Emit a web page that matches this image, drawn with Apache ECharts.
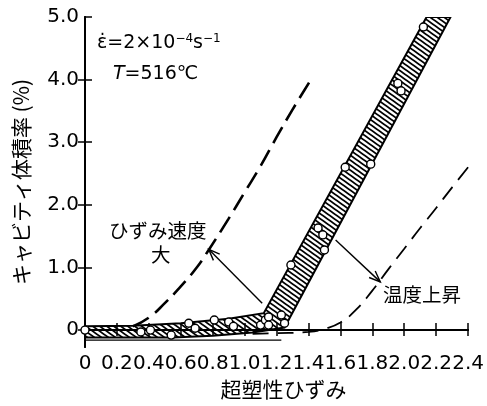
<!DOCTYPE html>
<html>
<head>
<meta charset="utf-8">
<script src="https://cdn.jsdelivr.net/npm/echarts@6/dist/echarts.min.js"></script>
<style>
  html, body { margin: 0; padding: 0; background: #fff; }
  #chart { width: 487px; height: 406px; }
</style>
</head>
<body>
<div id="chart"></div>
<script>
// measured points (open circles)
const pointX = [0, 0.35, 0.41, 0.54, 0.65, 0.69, 0.81, 0.90, 0.93, 1.10, 1.13, 1.15, 1.15, 1.23, 1.25, 1.29, 1.46, 1.49, 1.50, 1.63, 1.79, 1.96, 1.98, 2.12]
const pointY = [0, -0.03, 0, -0.08, 0.11, 0.03, 0.16, 0.13, 0.06, 0.08, 0.16, 0.21, 0.08, 0.24, 0.11, 1.04, 1.63, 1.52, 1.28, 2.60, 2.65, 3.94, 3.82, 4.84]

// hatched band edges
const bandUpperX = [0, 0.3, 0.6, 0.9, 1.12, 2.14]
const bandUpperY = [0.06, 0.07, 0.11, 0.18, 0.27, 5.0]
const bandLowerX = [0, 0.55, 0.8, 1.05, 1.25, 2.29]
const bandLowerY = [-0.12, -0.12, -0.09, -0.04, 0.04, 5.0]

// thin base line under the band
const baseX = [0, 1.23]
const baseY = [-0.16, -0.16]

// dashed curve: higher strain rate
const fastX = [0.3, 0.4, 0.5, 0.6, 0.7, 0.78, 0.9, 1.0, 1.1, 1.2, 1.3, 1.42]
const fastY = [0.06, 0.2, 0.43, 0.7, 1.0, 1.3, 1.78, 2.2, 2.62, 3.08, 3.52, 4.02]

// dashed curve: higher temperature
const hotX = [1.05, 1.2, 1.4, 1.5, 1.6, 1.7, 1.8, 1.9, 2.0, 2.1, 2.2, 2.3, 2.4]
const hotY = [-0.06, -0.05, -0.03, 0.02, 0.12, 0.33, 0.63, 0.97, 1.3, 1.63, 1.95, 2.28, 2.6]

// arrows [x1, y1, x2, y2] (tail -> head)
const arrows = [
  [1.11, 0.43, 0.775, 1.29],
  [1.57, 1.44, 1.85, 0.77]
]

const yTickValues = [0, 1, 2, 3, 4, 5]
const yRightTicks = [0, 1, 2, 3, 4]

const numFont = 'DejaVu Sans'
const jpFont = 'Noto Sans CJK JP'

const zip = (xs, ys) => xs.map((x, i) => [x, ys[i]])

// hatch pattern "\\\\"
const makeHatch = () => {
  const w = 7, h = 5
  const c = document.createElement('canvas')
  c.width = w
  c.height = h
  const ctx = c.getContext('2d')
  ctx.strokeStyle = '#000'
  ctx.lineWidth = 1.8
  for (const dx of [-w, 0, w]) {
    ctx.beginPath()
    ctx.moveTo(dx - w, -h)
    ctx.lineTo(dx + 2 * w, 2 * h)
    ctx.stroke()
  }
  return c
}
const hatch = makeHatch()

const chart = echarts.init(document.getElementById('chart'), null, { renderer: 'canvas' })

const axisLine = { show: true, lineStyle: { color: '#000', width: 2 } }

const option = {
  backgroundColor: '#fff',
  animation: false,
  grid: { left: 85, right: 18, top: 17, bottom: 59 },
  xAxis: [
    {
      type: 'value', position: 'bottom', min: 0, max: 2.4, interval: 0.2,
      axisLine: axisLine,
      splitLine: { show: false },
      axisTick: { inside: true, length: 7, lineStyle: { color: '#000', width: 1.5 } },
      axisLabel: {
        color: '#000', fontFamily: numFont, fontSize: 20, margin: 7, interval: 0, hideOverlap: false,
        formatter: v => (v === 0 ? '0' : v.toFixed(1))
      },
      name: '超塑性ひずみ', nameLocation: 'middle', nameGap: 28,
      nameTextStyle: { color: '#000', fontFamily: jpFont, fontSize: 21, padding: [0, 0, 0, 14] }
    },
    {
      type: 'value', position: 'top', min: 0, max: 2.4, interval: 0.2,
      axisLine: axisLine,
      splitLine: { show: false },
      axisTick: { inside: true, length: 6, lineStyle: { color: '#000', width: 1.5 } },
      axisLabel: { show: false }
    }
  ],
  yAxis: [
    {
      type: 'value', position: 'left', min: -0.27, max: 5,
      axisLine: axisLine,
      splitLine: { show: false },
      axisTick: { inside: true, length: 7, customValues: yTickValues, lineStyle: { color: '#000', width: 1.5 } },
      axisLabel: {
        color: '#000', fontFamily: numFont, fontSize: 20, margin: 6, customValues: yTickValues,
        formatter: v => (v === 0 ? '0' : v.toFixed(1))
      },
      name: 'キャビティ体積率 (%)', nameLocation: 'middle', nameGap: 53, nameRotate: 90,
      nameTextStyle: { color: '#000', fontFamily: jpFont, fontSize: 21 }
    },
    {
      type: 'value', position: 'right', min: -0.27, max: 5,
      axisLine: axisLine,
      splitLine: { show: false },
      axisTick: { inside: true, length: 7, customValues: yRightTicks, lineStyle: { color: '#000', width: 1.5 } },
      axisLabel: { show: false }
    }
  ],
  graphic: [
    {
      type: 'text', left: 97, top: 33, z: 100,
      style: {
        text: '{b|ε̇=2×10}{s|−4}{b|s}{s|−1}',
        rich: {
          b: { fontFamily: numFont, fontSize: 19, fill: '#000' },
          s: { fontFamily: numFont, fontSize: 12, fill: '#000', padding: [0, 0, 9, 0] }
        }
      }
    },
    {
      type: 'text', left: 113, top: 65, z: 100,
      style: {
        text: '{i|T}{b|=516℃}',
        rich: {
          i: { fontFamily: numFont, fontSize: 19, fontStyle: 'italic', fill: '#000' },
          b: { fontFamily: numFont, fontSize: 19, fill: '#000' }
        }
      }
    },
    {
      type: 'text', left: 109, top: 221, z: 100,
      style: { text: 'ひずみ速度', fontFamily: jpFont, fontSize: 19.5, fill: '#000' }
    },
    {
      type: 'text', left: 151, top: 245, z: 100,
      style: { text: '大', fontFamily: jpFont, fontSize: 19.5, fill: '#000' }
    },
    {
      type: 'text', left: 383, top: 285, z: 100,
      style: { text: '温度上昇', fontFamily: jpFont, fontSize: 19.5, fill: '#000' }
    }
  ],
  series: [
    {
      type: 'custom',
      name: 'band',
      coordinateSystem: 'cartesian2d',
      xAxisIndex: 0, yAxisIndex: 0,
      clip: true,
      z: 2,
      data: [0],
      renderItem: (params, api) => {
        const pts = []
        bandUpperX.forEach((x, i) => pts.push(api.coord([x, bandUpperY[i]])))
        for (let i = bandLowerX.length - 1; i >= 0; i--) {
          pts.push(api.coord([bandLowerX[i], bandLowerY[i]]))
        }
        return {
          type: 'polygon',
          shape: { points: pts },
          style: { fill: { image: hatch, repeat: 'repeat' }, stroke: '#000', lineWidth: 2 }
        }
      }
    },
    {
      type: 'line',
      name: 'base',
      data: zip(baseX, baseY),
      showSymbol: false,
      z: 2,
      lineStyle: { color: '#000', width: 1.3 }
    },
    {
      type: 'line',
      name: 'fast',
      data: zip(fastX, fastY),
      smooth: true,
      showSymbol: false,
      z: 3,
      lineStyle: { color: '#000', width: 2.6, type: [18, 8] }
    },
    {
      type: 'line',
      name: 'hot',
      data: zip(hotX, hotY),
      smooth: true,
      showSymbol: false,
      z: 3,
      lineStyle: { color: '#000', width: 1.8, type: [16, 9] }
    },
    {
      type: 'scatter',
      name: 'points',
      data: zip(pointX, pointY),
      symbol: 'circle',
      symbolSize: 8,
      z: 5,
      itemStyle: { color: '#fff', borderColor: '#000', borderWidth: 1.4, opacity: 1 }
    },
    {
      type: 'custom',
      name: 'arrows',
      coordinateSystem: 'cartesian2d',
      z: 6,
      data: arrows,
      renderItem: (params, api) => {
        const a = api.coord([api.value(0), api.value(1)])
        const b = api.coord([api.value(2), api.value(3)])
        const ang = Math.atan2(b[1] - a[1], b[0] - a[0])
        const len = 12, spread = 0.38
        const h1 = [b[0] - len * Math.cos(ang - spread), b[1] - len * Math.sin(ang - spread)]
        const h2 = [b[0] - len * Math.cos(ang + spread), b[1] - len * Math.sin(ang + spread)]
        const st = { stroke: '#000', lineWidth: 1.4, fill: null }
        return {
          type: 'group',
          children: [
            { type: 'line', shape: { x1: a[0], y1: a[1], x2: b[0], y2: b[1] }, style: st },
            { type: 'polyline', shape: { points: [h1, b, h2] }, style: st }
          ]
        }
      }
    }
  ]
}

chart.setOption(option)
</script>
</body>
</html>
